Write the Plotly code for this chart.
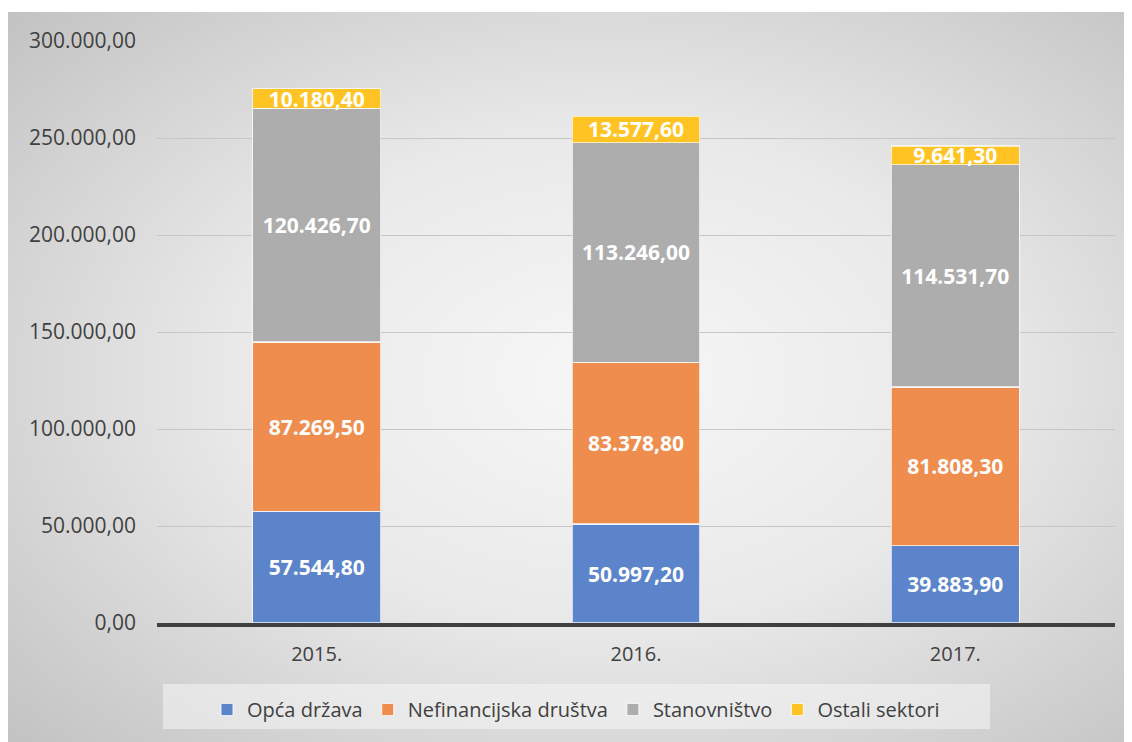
import base64
import plotly.graph_objects as go

years = ["2015.", "2016.", "2017."]
series_names = ["Opća država", "Nefinancijska društva", "Stanovništvo", "Ostali sektori"]
opca_drzava = [57544.8, 50997.2, 39883.9]
nefinancijska = [87269.5, 83378.8, 81808.3]
stanovnistvo = [120426.7, 113246.0, 114531.7]
ostali = [10180.4, 13577.6, 9641.3]
colors = ["#5B84CA", "#EE8D4E", "#ADADAD", "#FFC423"]

W, H = 1132, 742
OFF = 8  # page offset of the figure inside the window
# plot area in reference (window) pixels: x 157..1115, y 41..623
L, T = 157 - OFF, 41 - OFF
R, B = W - (1115 - OFF), H - (623 - OFF)
pw, ph = W - L - R, H - T - B

def px2x(p):
    return (p - OFF - L) / pw

def py2y(p):
    return (H - B - (p - OFF)) / ph

svg = (
    '<svg xmlns="http://www.w3.org/2000/svg" width="1125" height="730" viewBox="0 0 1125 730" preserveAspectRatio="none">'
    '<defs><radialGradient id="g" cx="0.52" cy="0.48" r="0.72">'
    '<stop offset="0" stop-color="#f7f7f7"/>'
    '<stop offset="0.45" stop-color="#e9e9e9"/>'
    '<stop offset="1" stop-color="#c1c1c1"/>'
    '</radialGradient></defs>'
    '<rect x="0" y="0" width="1125" height="730" fill="url(#g)"/></svg>'
)
src = "data:image/svg+xml;base64," + base64.b64encode(svg.encode()).decode()

fig = go.Figure()
for name, vals, col in zip(series_names, [opca_drzava, nefinancijska, stanovnistvo, ostali], colors):
    fig.add_trace(go.Bar(
        x=years, y=vals, name=name,
        marker=dict(color=col, line=dict(color="rgba(255,255,255,0.7)", width=1.2)),
        texttemplate="%{y:,.2f}", textposition="inside", insidetextanchor="middle",
        textangle=0,
        textfont=dict(family="Open Sans", size=21, color="white", weight="bold"),
    ))

fig.update_layout(
    width=W, height=H,
    margin=dict(l=L, r=R, t=T, b=B),
    barmode="stack", bargap=0.6,
    separators=",.",
    paper_bgcolor="white", plot_bgcolor="rgba(0,0,0,0)",
    font=dict(family="Open Sans", color="#404040"),
    uniformtext=dict(minsize=20, mode="show"),
    images=[dict(
        source=src, xref="paper", yref="paper",
        x=px2x(7), y=py2y(12), sizex=(W + 20) / pw, sizey=(H + 20) / ph,
        xanchor="left", yanchor="top", sizing="stretch", layer="below",
    )],
    shapes=[dict(
        type="rect", xref="paper", yref="paper", layer="below",
        x0=px2x(163), x1=px2x(990), y0=py2y(684), y1=py2y(729),
        fillcolor="rgba(245,245,245,0.55)", line=dict(width=0),
    )],
    xaxis=dict(
        showline=True, linecolor="#404040", linewidth=3.5,
        tickfont=dict(size=20, color="#404040"), ticks="",
        ticklabelstandoff=10, showgrid=False,
    ),
    yaxis=dict(
        range=[0, 300000], dtick=50000, tickformat=",.2f",
        showgrid=True, gridcolor="#c6c6c6", gridwidth=1,
        zeroline=False, showline=False, ticks="",
        tickfont=dict(size=21, color="#404040"), ticklabelstandoff=20,
    ),
    legend=dict(
        orientation="h", traceorder="normal",
        x=px2x(576), xanchor="center", y=py2y(690), yanchor="top",
        bgcolor="rgba(0,0,0,0)", borderwidth=0,
        font=dict(size=20, color="#404040"),
        itemwidth=30,
    ),
    showlegend=True,
)

fig.write_html("out.html")
